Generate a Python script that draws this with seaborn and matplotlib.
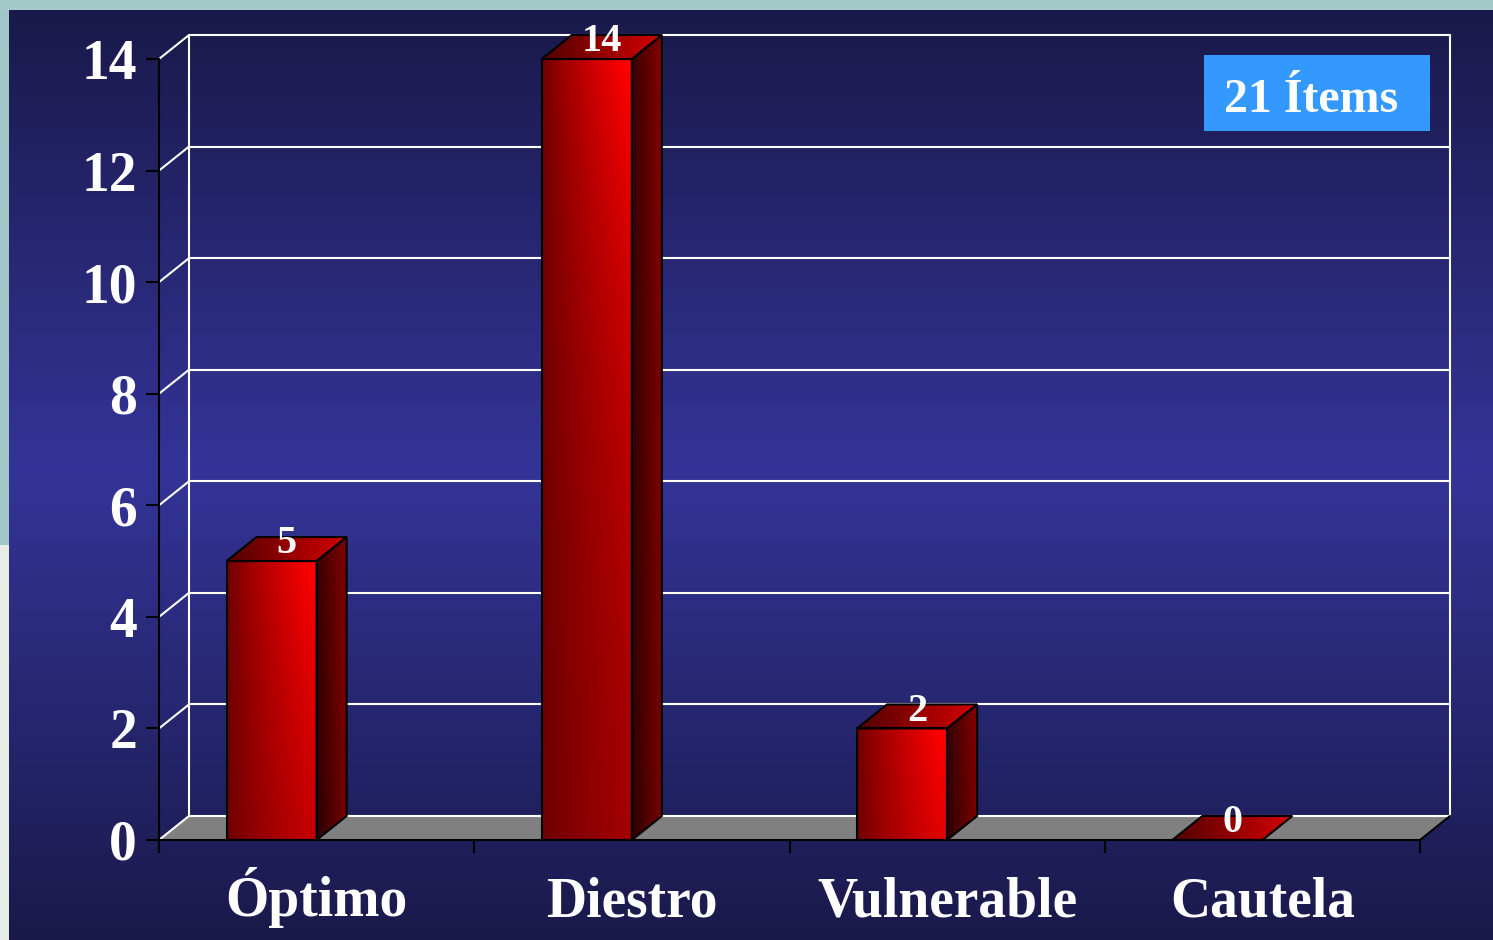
import numpy as np
import pandas as pd
import matplotlib
matplotlib.use("Agg")
import matplotlib.pyplot as plt
from matplotlib.patches import Polygon, Rectangle
import seaborn as sns

# data
categories = ["Óptimo", "Diestro", "Vulnerable", "Cautela"]
counts = [5, 14, 2, 0]
y_ticks = [0, 2, 4, 6, 8, 10, 12, 14]
badge_text = "21 Ítems"

W, H = 1493, 940
sns.set_style("white")
plt.rcParams["font.family"] = ["Liberation Serif", "DejaVu Serif"]
plt.rcParams["font.weight"] = "bold"

fig = plt.figure(figsize=(W / 100, H / 100), dpi=100)

# slide background: navy vertical gradient + light strips on top/left
rows = np.arange(H)[:, None]
top_c = np.array([26, 25, 74]) / 255
mid_c = np.array([52, 52, 152]) / 255
frac = np.where(rows < 470, (rows - 10) / 460, (940 - rows) / 470)
frac = np.clip(frac, 0, 1)
bg_img = top_c + (mid_c - top_c) * frac[..., None]
bg_img = np.repeat(bg_img, W, axis=1)
bg_img[:545, :9] = np.array([160, 198, 200]) / 255
bg_img[545:, :9] = np.array([232, 236, 230]) / 255
bg_img[:10, :] = np.array([165, 200, 200]) / 255
bg = fig.add_axes([0, 0, 1, 1])
bg.imshow(bg_img, aspect="auto", extent=[0, 1, 0, 1])
bg.axis("off")

# front plane of the 3D chart
ax = fig.add_axes([159 / W, 100 / H, (1420 - 159) / W, 781 / H])
ax.patch.set_visible(False)

# depth offset (30px right, 24px up) in data units
dx = 4 * 30 / 1261
dy = 14 * 24 / 781
shift = 45 / 315
bar_width = 90 / 315

df = pd.DataFrame({"categoria": categories, "n": counts})
sns.barplot(data=df, x="categoria", y="n", width=bar_width, color="#cc0000",
            ax=ax, zorder=4)
bars = list(ax.patches)

# floor and walls
floor = Polygon([(-0.5, 0), (3.5, 0), (3.5 + dx, dy), (-0.5 + dx, dy)],
                closed=True, facecolor="#808080", edgecolor="none", zorder=1, clip_on=False)
ax.add_patch(floor)
ax.plot([3.5, 3.5 + dx], [0, dy], color="black", lw=1.5, zorder=2, clip_on=False)
for v in y_ticks:
    ax.plot([-0.5 + dx, 3.5 + dx], [v + dy, v + dy], color="white", lw=1.5,
            zorder=1.5, clip_on=False)
    ax.plot([-0.5, -0.5 + dx], [v, v + dy], color="white", lw=1.5,
            zorder=1.5, clip_on=False)
for xb in (-0.5 + dx, 3.5 + dx):
    ax.plot([xb, xb], [dy, y_ticks[-1] + dy], color="white", lw=1.5,
            zorder=1.5, clip_on=False)


def shade(arr_r):
    img = np.zeros(arr_r.shape + (3,))
    img[..., 0] = np.clip(arr_r, 0, 1)
    return img


n = 120
xn = np.linspace(0, 1, n)[None, :]
yn = np.linspace(0, 1, n)[:, None]

for p in bars:
    x0 = p.get_x() - shift
    p.set_x(x0)
    w = p.get_width()
    h = p.get_height()
    x1 = x0 + w
    p.set_facecolor("none")
    p.set_edgecolor("black")
    p.set_linewidth(1.5)
    p.set_zorder(5)

    # front face: bright toward the top right
    if h > 0:
        d = h * (1 - yn)
        glow = np.clip(xn * 1.08, 0, 1) ** 0.8 * (0.3 + 0.7 * np.exp(-d / 6))
        front = shade(0.42 + 0.58 * glow)
        ax.imshow(front, origin="lower", extent=[x0, x1, 0, h], aspect="auto",
                  interpolation="bilinear", zorder=3, clip_path=p, clip_box=fig.bbox)

    # top face
    top = Polygon([(x0, h), (x1, h), (x1 + dx, h + dy), (x0 + dx, h + dy)],
                  closed=True, facecolor="none", edgecolor="black", lw=1.5,
                  zorder=5, clip_on=False)
    ax.add_patch(top)
    top_img = shade(0.32 + 0.52 * xn + 0 * yn)
    ax.imshow(top_img, origin="lower", extent=[x0, x1 + dx, h, h + dy], aspect="auto",
              interpolation="bilinear", zorder=3, clip_path=top, clip_box=fig.bbox)

    # side face
    if h > 0:
        side = Polygon([(x1, 0), (x1 + dx, dy), (x1 + dx, h + dy), (x1, h)],
                       closed=True, facecolor="none", edgecolor="black", lw=1.5,
                       zorder=5, clip_on=False)
        ax.add_patch(side)
        side_img = shade(0.17 + 0.30 * xn + 0.05 * yn)
        ax.imshow(side_img, origin="lower", extent=[x1, x1 + dx, 0, h + dy], aspect="auto",
                  interpolation="bilinear", zorder=3, clip_path=side, clip_box=fig.bbox)

    ax.text(x0 + w / 2 + dx / 2, h + 0.14, f"{int(h)}", color="white", fontsize=29,
            fontweight="bold", ha="center", va="baseline", zorder=6, clip_on=False)

ax.set_xlim(-0.5, 3.5)
ax.set_ylim(0, 14)
ax.set_xlabel("")
ax.set_ylabel("")

ax.set_yticks(y_ticks)
ax.set_yticklabels([str(v) for v in y_ticks])
ax.set_xticks(range(len(categories)))
ax.set_xticklabels(categories)
ax.set_xticks(np.arange(-0.5, len(categories)), minor=True)
ax.tick_params(axis="y", which="major", left=True, length=9.4, width=1.5, color="black",
               labelcolor="white", labelsize=40, pad=6.5)
ax.tick_params(axis="x", which="major", bottom=True, length=0, labelcolor="white",
               labelsize=40, pad=55)
ax.tick_params(axis="x", which="minor", bottom=True, length=9, width=1.5, color="black")
for lab in ax.get_xticklabels():
    lab.set_fontweight("bold")
    lab.set_verticalalignment("baseline")
for lab in ax.get_yticklabels():
    lab.set_fontweight("bold")

for s in ("top", "right"):
    ax.spines[s].set_visible(False)
for s in ("left", "bottom"):
    ax.spines[s].set_visible(True)
    ax.spines[s].set_color("black")
    ax.spines[s].set_linewidth(1.5)
    ax.spines[s].set_zorder(6)

# "21 Ítems" badge
fig.patches.append(Rectangle((1204 / W, (H - 131) / H), 226 / W, 76 / H,
                             transform=fig.transFigure, facecolor="#3399ff",
                             edgecolor="none", zorder=10))
fig.text(1224 / W, (H - 112) / H, badge_text, color="white", fontsize=34.5,
         fontweight="bold", ha="left", va="baseline", zorder=11)

fig.savefig("out.png", dpi=100)
